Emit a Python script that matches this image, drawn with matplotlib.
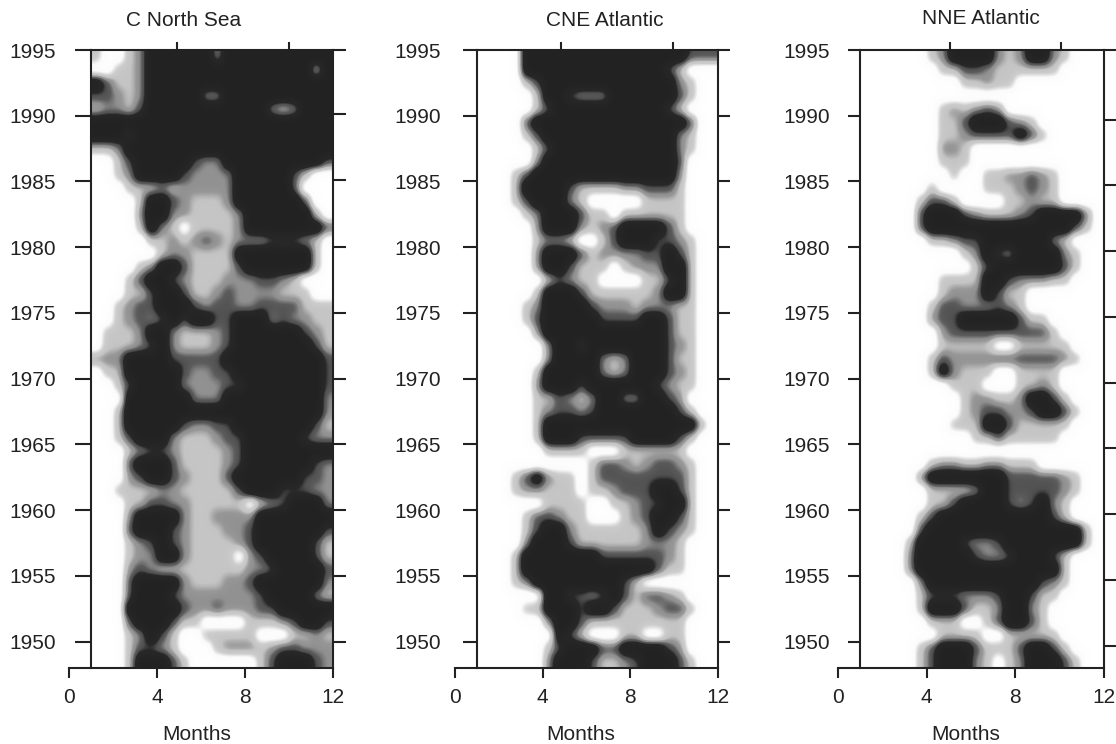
#!/usr/bin/env python3
"""
Three month-by-year density panels (C North Sea, CNE Atlantic, NNE Atlantic).

Each row below is one year, top row 1995 downwards. Each digit is a half month
from January on, as a grey class read off the picture: 0 white ... 4 near black.
"""

from __future__ import annotations

import matplotlib

matplotlib.use("Agg")

import matplotlib.pyplot as plt
import numpy as np
from matplotlib.colors import LinearSegmentedColormap, Normalize


TITLES = ["C North Sea", "CNE Atlantic", "NNE Atlantic"]
YEAR_TICKS = [1995, 1990, 1985, 1980, 1975, 1970, 1965, 1960, 1955, 1950]
MONTH_TICKS = [0, 4, 8, 12]

NORTH_SEA = [
    "1001244444424444444444",
    "0011244444444444444414",
    "4311244444444444444444",
    "3321244444224444444444",
    "1221344444444444212444",
    "4444444444444444444444",
    "4443444444444444444444",
    "1124444444444444444444",
    "0013444443224444444443",
    "0012444432222444443100",
    "0001112122222444443000",
    "0000144321112444444300",
    "0000244221111244444410",
    "0000142101111244444443",
    "0000011212321222333210",
    "0000001221111444444410",
    "0000124431111344444410",
    "0001344321112223321000",
    "0001134431123222211100",
    "0012334443233223333111",
    "0012323434433444232211",
    "0111244211123444444321",
    "0111234211123444444431",
    "2224444333334444444443",
    "0114444432233444444443",
    "0013444422223344444443",
    "0004444442224444444442",
    "0014444444444444444442",
    "0014444432233444444431",
    "0013444211123344444322",
    "0001233211112344444444",
    "0003444311112344444432",
    "0002344321113444444332",
    "0011112211111344433322",
    "0001133221111101234442",
    "0002444421122224444444",
    "0003444321112234444443",
    "0001234321111234444431",
    "0001224421111023444431",
    "0002321111111122344443",
    "0003444421112234444442",
    "0003444322222223444421",
    "0004444432232223344444",
    "0003444311000011123443",
    "0001243100111110001121",
    "0001332100012221233222",
    "0001444310000001344432",
]

CNE_ATLANTIC = [
    "0000444444444444444333",
    "0000444444444444431000",
    "0000134444444444442100",
    "0000014432224444443100",
    "0000013444444444431000",
    "0000344444444444444300",
    "0000134444444444442100",
    "0000013444444444442100",
    "0000024444444444443000",
    "0001344444444444442000",
    "0001444431111223331000",
    "0001344421000001111000",
    "0000124443110111111000",
    "0000024442123444431000",
    "0000012210013444332100",
    "0000024443122223343100",
    "0000024431110122244100",
    "0000001321100001134100",
    "0000014443111111244100",
    "0000124444322212221100",
    "0000134444433334431100",
    "0000024444444444431100",
    "0000002443444444432100",
    "0000002444421244431100",
    "0000014444421244432100",
    "0000024443444444321100",
    "0000011321244224432000",
    "0000012332344444443100",
    "0000014444444444444410",
    "0000014443333344443100",
    "0000001111000111111000",
    "0000000000133212332100",
    "0001342110133333333100",
    "0001221110112333443100",
    "0000001111001123344100",
    "0000133211000123443100",
    "0000134421111112432100",
    "0000244431111112221000",
    "0001444444433333321000",
    "0001444444444444311000",
    "0001244444444310000000",
    "0000004433234313321000",
    "0000114443443111233100",
    "0000002443111111111000",
    "0000000431000110011000",
    "0000001344433444432000",
    "0000002444311234443100",
]

NNE_ATLANTIC = [
    "0000001244442124421000",
    "0000000113321111110000",
    "0000000001121100000000",
    "0000000000000000000000",
    "0000000121232000000000",
    "0000000113444321000000",
    "0000000112333343100000",
    "0000000221000000000000",
    "0000000111000000000000",
    "0000000010011223210000",
    "0000001000011123210000",
    "0000013310000112110000",
    "0000034443211123444420",
    "0000034444444444444310",
    "0000001123344444421000",
    "0000000001243244442100",
    "0000000000134444443100",
    "0000000111144322211000",
    "0000000122243110000000",
    "0000001332223210000000",
    "0000002334444431100000",
    "0000000233333333310000",
    "0000000111110011111000",
    "0000001322223333332100",
    "0000001421110011110000",
    "0000000011100011210000",
    "0000000001221124431000",
    "0000000001233223443100",
    "0000000011144311111000",
    "0000000000113111110000",
    "0000000000000000000000",
    "0000001221122111000000",
    "0000024444444333332100",
    "0000001111244333332100",
    "0000001134444323421000",
    "0000013444444444431000",
    "0000034444444444444410",
    "0000144443223444444410",
    "0000244444322344431000",
    "0000244444444444441000",
    "0000024444444444321000",
    "0000013332223443110000",
    "0000014443112442100000",
    "0000001110013443100000",
    "0000000111100111110000",
    "0000013444311134431000",
    "0000013444210124443100",
]

# level each grey class sits at, so that the grey rings around black stay narrow
CLASS_LEVELS = [0.0, 1.5, 2.0, 2.5, 4.0]

# data positions of the tick marks that do not line up with the labelled scales
TOP_TICKS = [[4.9, 10.0], [4.85, 9.95], [5.05, 10.05]]
RIGHT_TICKS = [
    [1995, 1990.1, 1985.1, 1980, 1975, 1970, 1965, 1960, 1955, 1950],
    YEAR_TICKS,
    [1995, 1989.7, 1984.7, 1979.7, 1974.7, 1969.7, 1964.7, 1959.7, 1954.7, 1949.7],
]

# pixel layout of the scanned figure
AXES_PX = [(69, 333), (455, 718), (838, 1104)]
TOP_PX, BOTTOM_PX = 50, 668
TITLE_PX = [(184, 20), (605, 20), (981, 18)]
XLABEL_PX = [(197, 734), (581, 735), (966, 734)]
LEFT_TICK_PX = [16, 14, 12]
RIGHT_TICK_PX = [13, 12, 13]
YLABEL_PAD_PX = [19, 22, 18]
W, H = 1116, 744
PT = 72 / 100  # one pixel in points at dpi=100
INK = "#222222"

GREYS = LinearSegmentedColormap.from_list(
    "scan",
    [
        (0.0, "#ffffff"),
        (0.16, "#fbfbfb"),
        (0.29, "#cdcdcd"),
        (0.39, "#c4c4c4"),
        (0.46, "#989898"),
        (0.51, "#909090"),
        (0.58, "#5c5c5c"),
        (0.64, "#505050"),
        (0.70, "#282828"),
        (1.0, "#222222"),
    ],
)


def _grid(rows: list[str]) -> np.ndarray:
    return np.array([[CLASS_LEVELS[int(c)] for c in row] for row in rows], dtype=float)


def _panel(fig, i: int, rows: list[str]) -> None:
    x0, x1 = AXES_PX[i]
    ax = fig.add_axes(
        [x0 / W, (H - BOTTOM_PX) / H, (x1 - x0) / W, (BOTTOM_PX - TOP_PX) / H]
    )
    ax.imshow(
        _grid(rows),
        extent=[1, 12, 1948, 1995],
        aspect="auto",
        cmap=GREYS,
        norm=Normalize(0, 4),
        interpolation="gaussian",
        interpolation_stage="data",
    )
    ax.set_xlim(0, 12)
    ax.set_ylim(1948, 1995)

    for side in ax.spines.values():
        side.set_linewidth(1.5)
        side.set_color(INK)
    ax.spines["left"].set_position(("data", 1))
    ax.spines["top"].set_bounds(1, 12)

    ax.set_xticks(MONTH_TICKS)
    ax.set_yticks(YEAR_TICKS)
    ax.tick_params(axis="x", direction="out", length=10 * PT, width=1.5, color=INK,
                   labelcolor=INK, labelsize=15, pad=10 * PT)
    ax.tick_params(axis="y", direction="out", length=LEFT_TICK_PX[i] * PT, width=1.5,
                   color=INK, labelcolor=INK, labelsize=15, pad=YLABEL_PAD_PX[i] * PT)

    top = ax.secondary_xaxis("top")
    top.set_xticks(TOP_TICKS[i])
    top.tick_params(direction="out", length=8 * PT, width=1.5, color=INK, labeltop=False)
    top.spines["top"].set_visible(False)

    right = ax.secondary_yaxis("right")
    right.set_yticks(RIGHT_TICKS[i])
    right.tick_params(direction="out", length=RIGHT_TICK_PX[i] * PT, width=1.5, color=INK,
                      labelright=False)
    right.spines["right"].set_visible(False)

    tx, ty = TITLE_PX[i]
    fig.text(tx / W, 1 - ty / H, TITLES[i], ha="center", va="center", fontsize=15, color=INK)
    lx, ly = XLABEL_PX[i]
    fig.text(lx / W, 1 - ly / H, "Months", ha="center", va="center", fontsize=15, color=INK)


def main() -> None:
    plt.rcParams["font.family"] = ["Liberation Sans", "DejaVu Sans"]
    fig = plt.figure(figsize=(W / 100, H / 100), dpi=100, facecolor="white")
    for i, rows in enumerate([NORTH_SEA, CNE_ATLANTIC, NNE_ATLANTIC]):
        _panel(fig, i, rows)
    fig.savefig("out.png", dpi=100)
    plt.close(fig)


if __name__ == "__main__":
    main()
